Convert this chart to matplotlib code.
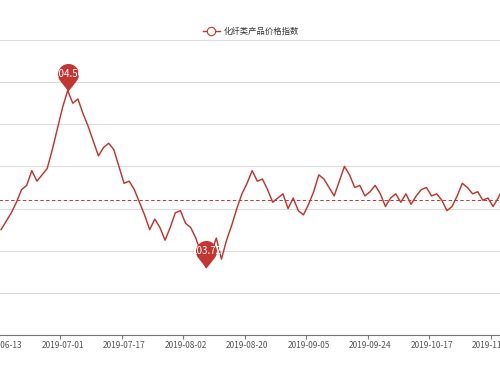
import numpy as np
import pandas as pd
import matplotlib
matplotlib.use("Agg")
import matplotlib.pyplot as plt
from matplotlib.path import Path
from matplotlib.lines import Line2D

plt.rcParams['font.family'] = ['Noto Sans CJK SC', 'DejaVu Sans']

series_name = "化纤类产品价格指数"

# daily index values, trading days from 2019-06-13
index_values = [
    103.90, 103.94, 103.98, 104.03, 104.09, 104.11, 104.18, 104.13, 104.16, 104.19,
    104.28, 104.38, 104.48, 104.56, 104.50, 104.52, 104.45, 104.39, 104.32, 104.25,
    104.29, 104.31, 104.28, 104.20, 104.12, 104.13, 104.09, 104.03, 103.97, 103.90,
    103.95, 103.91, 103.85, 103.91, 103.98, 103.99, 103.93, 103.91, 103.86, 103.79,
    103.72, 103.79, 103.86, 103.76, 103.85, 103.92, 104.00, 104.07, 104.12, 104.18,
    104.13, 104.14, 104.09, 104.03, 104.05, 104.07, 104.00, 104.05, 103.99, 103.97,
    104.02, 104.08, 104.16, 104.14, 104.10, 104.06, 104.13, 104.20, 104.16, 104.10,
    104.11, 104.06, 104.08, 104.11, 104.07, 104.01, 104.05, 104.07, 104.03, 104.07,
    104.02, 104.06, 104.09, 104.10, 104.06, 104.07, 104.04, 103.99, 104.01, 104.06,
    104.12, 104.10, 104.07, 104.08, 104.04, 104.05, 104.01, 104.05, 104.10,
]
average_value = 104.04

# market closed on these weekdays
holidays = ["2019-09-13", "2019-10-01", "2019-10-02", "2019-10-03",
            "2019-10-04", "2019-10-07"]
dates = pd.bdate_range("2019-06-13", "2019-12-31", freq="C", holidays=holidays)
dates = dates[:len(index_values)]
label_step = 12

red = "#c23531"

W, H = 500, 375
fig = plt.figure(figsize=(W / 100, H / 100), dpi=100)

# the chart is cut at the left and right edges of the picture
band = 5.125
n_bands = 102
ax = fig.add_axes([-1.5 / W, (H - 335) / H, n_bands * band / W, (335 - 40) / H])
ax.set_xlim(-0.5, n_bands - 0.5)
ax.set_ylim(103.4, 104.8)

for s in ["left", "right", "top"]:
    ax.spines[s].set_visible(False)
ax.spines["bottom"].set_color("#777777")
ax.spines["bottom"].set_linewidth(0.8)

ax.set_yticks(np.arange(103.4, 104.81, 0.2))
ax.tick_params(axis="y", length=0, labelleft=False)
ax.grid(axis="y", color="#dddddd", linewidth=0.8)
ax.set_axisbelow(True)

x = np.arange(len(index_values))
label_idx = x[::label_step]
ax.set_xticks(label_idx)
ax.set_xticklabels([dates[i].strftime("%Y-%m-%d") for i in label_idx])
ax.set_xticks(label_idx - 0.5, minor=True)
ax.tick_params(axis="x", which="major", length=0, pad=4.5, labelsize=6,
               labelcolor="#555555")
ax.tick_params(axis="x", which="minor", length=3, width=0.8, color="#777777")

ax.plot(x, index_values, color=red, linewidth=1.05, zorder=3)
ax.axhline(average_value, color=red, linewidth=0.7, linestyle=(0, (3.5, 2.5)),
           zorder=2)

# pin markers for max / min
r, c = 10.5, 17.0
beta = np.arccos(r / c)
t = np.linspace(-np.pi / 2 + beta, 3 * np.pi / 2 - beta, 60)
arc = np.column_stack([r * np.cos(t), c + r * np.sin(t)])
pin = Path(np.vstack([[0, 0], arc, [0, 0]]), closed=True)
pin_size = 2 * (c + r) * 0.72

vals = np.array(index_values)
for i in [int(vals.argmax()), int(vals.argmin())]:
    ax.plot(i, vals[i], marker=pin, markersize=pin_size, color=red,
            markeredgewidth=0, zorder=5, clip_on=False)
    ax.annotate(f"{vals[i]:.2f}", xy=(i, vals[i]), xytext=(0, c * 0.72),
                textcoords="offset points", ha="center", va="center",
                color="white", fontsize=7, zorder=6)

handle = Line2D([], [], color=red, linewidth=1.0, marker="o", markersize=6,
                markerfacecolor="white", markeredgecolor=red,
                markeredgewidth=0.8)
fig.legend([handle], [series_name], loc="center",
           bbox_to_anchor=(251 / W, 1 - 31 / H), frameon=False, fontsize=6,
           handlelength=2.0, handletextpad=0.5, labelcolor="#333333")

fig.savefig("out.png", dpi=100)
